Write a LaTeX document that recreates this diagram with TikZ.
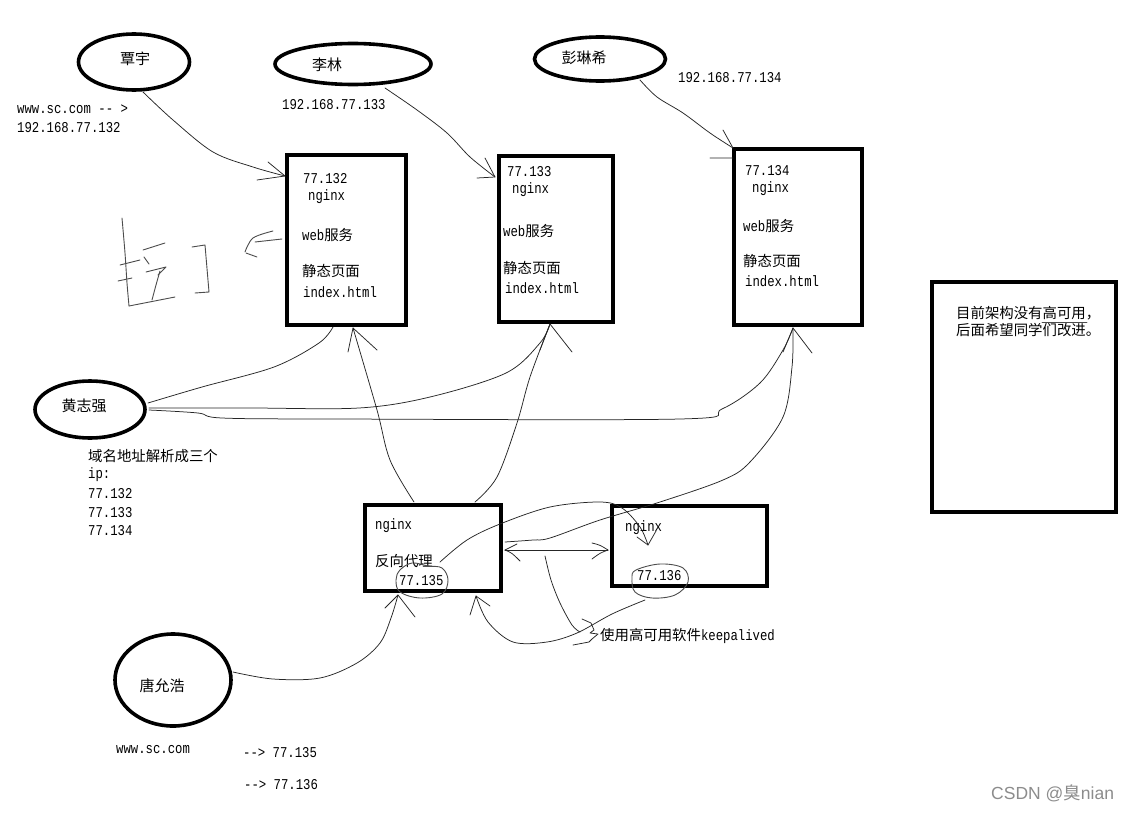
\documentclass[tikz,border=0pt]{standalone}
\usepackage{fontspec}
\usetikzlibrary{shapes.geometric}
\newfontfamily\cjkf{Noto Sans CJK SC}
\newfontfamily\monof{Liberation Mono}[FakeStretch=0.82]
\newfontfamily\sansf{Liberation Sans}
\newcommand\Zh[1]{{\cjkf\fontsize{14.4}{16}\selectfont #1}}
\newcommand\Mo[1]{{\monof\fontsize{15}{16}\selectfont #1}}
\begin{document}
\begin{tikzpicture}[x=1pt,y=-1pt,
 ell/.style={draw, ellipse, line width=3.6pt, inner sep=0},
 box/.style={draw, rectangle, line width=4pt, inner sep=0},
 lbl/.style={anchor=base west, inner sep=0},
 cname/.style={inner sep=0, font=\cjkf\fontsize{15}{16}\selectfont},
 wire/.style={line width=0.75pt, black!85, line cap=round, line join=round},
 ink/.style={line width=0.9pt, black!70, line cap=round, line join=round},
 sm/.style={smooth, tension=0.55}]
\useasboundingbox (0,0) rectangle (1134,816);
\fill[white] (0,0) rectangle (1134,816);

% ---- people (ellipses)
\node[ell, minimum width=111pt, minimum height=56pt] (qy) at (134,62) {};
\node[cname] (qyt) at (135,59) {覃宇};
\node[ell, minimum width=156pt, minimum height=41pt] (ll) at (353,64) {};
\node[cname] (llt) at (327,65) {李林};
\node[ell, minimum width=131pt, minimum height=44pt] (plx) at (600,59) {};
\node[cname] (plxt) at (584,58) {彭琳希};
\node[ell, minimum width=110pt, minimum height=57pt] (hzq) at (90,409.5) {};
\node[cname] (hzqt) at (84,406) {黄志强};
\node[ell, minimum width=116pt, minimum height=92pt] (tyh) at (173,680) {};
\node[cname] (tyht) at (162,686) {唐允浩};

% ---- boxes
\node[box, minimum width=119pt, minimum height=170pt] (b1) at (346.5,240) {};
\node[box, minimum width=114pt, minimum height=166pt] (b2) at (556,239) {};
\node[box, minimum width=128pt, minimum height=176pt] (b3) at (798,237) {};
\node[box, minimum width=136pt, minimum height=86pt] (bp) at (433,548) {};
\node[box, minimum width=155pt, minimum height=80pt] (bk) at (689.5,546) {};
\node[box, minimum width=184pt, minimum height=230pt] (bn) at (1024,397) {};

% ---- texts in boxes
\node[lbl] (b1a) at (303,183) {\Mo{77.132}};
\node[lbl] (b1b) at (308,200) {\Mo{nginx}};
\node[lbl] (b1c) at (302,240) {\Mo{web}\Zh{服务}};
\node[lbl] (b1d) at (302,276.5) {\Zh{静态页面}};
\node[lbl] (b1e) at (303,297) {\Mo{index.html}};

\node[lbl] (b2a) at (507,176) {\Mo{77.133}};
\node[lbl] (b2b) at (512,193) {\Mo{nginx}};
\node[lbl] (b2c) at (503,236) {\Mo{web}\Zh{服务}};
\node[lbl] (b2d) at (503,273) {\Zh{静态页面}};
\node[lbl] (b2e) at (505,293) {\Mo{index.html}};

\node[lbl] (b3a) at (745,175) {\Mo{77.134}};
\node[lbl] (b3b) at (752,192) {\Mo{nginx}};
\node[lbl] (b3c) at (743,231) {\Mo{web}\Zh{服务}};
\node[lbl] (b3d) at (743,266) {\Zh{静态页面}};
\node[lbl] (b3e) at (745,286) {\Mo{index.html}};

\node[lbl] (bpa) at (375,529) {\Mo{nginx}};
\node[lbl] (bpb) at (375,566) {\Zh{反向代理}};
\node[lbl] (bpc) at (399,585) {\Mo{77.135}};
\node[lbl] (bka) at (625,531) {\Mo{nginx}};
\node[lbl] (bkb) at (637,580) {\Mo{77.136}};

\node[lbl] (bna) at (956,318) {\Zh{目前架构没有高可用，}};
\node[lbl] (bnb) at (956,335) {\Zh{后面希望同学们改进。}};

% ---- free texts
\node[lbl] (t1) at (17,113) {\Mo{www.sc.com -- >}};
\node[lbl] (t2) at (17,132) {\Mo{192.168.77.132}};
\node[lbl] (t3) at (282,109) {\Mo{192.168.77.133}};
\node[lbl] (t4) at (678,82) {\Mo{192.168.77.134}};
\node[lbl] (t5) at (88,461) {\Zh{域名地址解析成三个}};
\node[lbl] (t6) at (88,478) {\Mo{ip:}};
\node[lbl] (t7) at (88,498) {\Mo{77.132}};
\node[lbl] (t8) at (88,517) {\Mo{77.133}};
\node[lbl] (t9) at (88,535) {\Mo{77.134}};
\node[lbl] (t10) at (116,753) {\Mo{www.sc.com}};
\node[lbl] (t11) at (243,757) {\Mo{--> 77.135}};
\node[lbl] (t12) at (244,789) {\Mo{--> 77.136}};
\node[lbl] (t13) at (600,640) {\Zh{使用高可用软件}\Mo{keepalived}};
\node[lbl, text=black!45] (wm) at (991,799) {\sansf\fontsize{17.5}{19}\selectfont CSDN @{\cjkf 臭}nian};

% ---- hand-drawn circles
\draw[ink] plot[smooth cycle, tension=0.6] coordinates {(400,570) (412,563) (428,566) (442,568) (448,580) (442,594) (420,598) (400,592) (396,580)};
\draw[ink] plot[smooth cycle, tension=0.6] coordinates {(636,570) (660,564) (683,568) (688,582) (675,595) (652,598) (635,592) (632,578)};
\draw[ink, line width=0.6pt] (1042,322) -- (1087,322);

% ---- connector end points
\coordinate (c1s) at (143,92);   \coordinate (c1e) at (285,176);
\coordinate (c2s) at (385,88);   \coordinate (c2e) at (495,177);
\coordinate (c3s) at (640,80);   \coordinate (c3e) at (733,148);
\coordinate (h1) at (148,403);   \coordinate (h1e) at (333,327);
\coordinate (h2) at (149,408);   \coordinate (b2in) at (550,324);
\coordinate (h3) at (149,410);   \coordinate (b3in) at (793,328);
\coordinate (b1in) at (353,328);
\coordinate (pt1) at (414,502);  \coordinate (pt2) at (475,502);
\coordinate (pr) at (505,542);   \coordinate (pin) at (440,562);
\coordinate (kin) at (648,545);
\coordinate (dl) at (505,550);   \coordinate (dr) at (608,550);
\coordinate (ty) at (233,672);   \coordinate (pb1) at (398,595);
\coordinate (kc) at (645,600);   \coordinate (pb2) at (476,596);
\coordinate (k1) at (545,556);   \coordinate (k1e) at (580,632);

% ---- connectors
\draw[wire] plot[sm] coordinates {(c1s) (173,120) (213,152) (253,167) (c1e)};
\draw[wire] (268,162) -- (c1e) (257,180) -- (c1e);

\draw[wire] plot[sm] coordinates {(c2s) (417,110) (447,133) (470,157) (c2e)};
\draw[wire] (485,158) -- (c2e) (477,178) -- (c2e);

\draw[wire] plot[sm] coordinates {(c3s) (657,97) (683,113) (710,133) (c3e)};
\draw[wire] (723,130) -- (c3e) (710,158) -- (733,158);

\draw[wire] plot[sm] coordinates {(h1) (202,387) (274,367) (319,343) (h1e)};
\draw[wire] plot[sm] coordinates {(h2) (250,408) (359,408) (430,397) (506,373) (540,343) (b2in)};
\draw[wire] plot[sm] coordinates {(h3) (198,413) (222,418) (336,419) (680,419) (722,409) (760,383) (783,350) (b3in)};

\draw[wire] plot[sm] coordinates {(pt1) (390,460) (377,410) (b1in)};
\draw[wire] (348,352) -- (b1in) -- (377,350);

\draw[wire] plot[sm] coordinates {(pt2) (497,477) (517,423) (530,377) (b2in)};
\draw[wire] (540,350) -- (b2in) -- (572,352);

\draw[wire] plot[sm] coordinates {(pr) (533,540) (550,538) (600,520) (660,502) (723,480) (750,462) (783,417) (792,367) (b3in)};
\draw[wire] (783,352) -- (b3in) -- (812,353);

\draw[wire] plot[sm] coordinates {(pin) (467,540) (500,524) (550,507) (600,502) (622,508) (640,527) (kin)};
\draw[wire] (637,537) -- (kin) -- (656,531);

\draw[wire] (dl) -- (dr);
\draw[wire] (dl) .. controls (512,553) .. (520,561);
\draw[wire] (dl) -- (517,544);
\draw[wire] (dr) .. controls (600,553) .. (592,559);
\draw[wire] (dr) .. controls (600,545) .. (592,543);

\draw[wire] plot[sm] coordinates {(ty) (273,679) (320,678) (357,663) (380,643) (391,618) (pb1)};
\draw[wire] (385,608) -- (pb1) -- (415,617);

\draw[wire] plot[sm] coordinates {(kc) (612,614) (577,633) (547,642) (513,642) (488,622) (pb2)};
\draw[wire] (470,615) -- (pb2) -- (490,606);

\draw[wire] plot[sm] coordinates {(k1) (551,580) (560,603) (572,625) (k1e)};
\draw[wire] (582,619) -- (591,623) -- (594,630) -- (590,633) -- (598,634) -- (592,639) -- (589,642) -- (573,645);

% ---- handwritten scribble
\draw[ink] plot[sm] coordinates {(122,218) (125,253) (127,283) (129,306)};
\draw[ink] (120,265) -- (140,260);
\draw[ink] (118,281) -- (132,278);
\draw[ink] (143,250) -- (165,243);
\draw[ink] (144,257) -- (149,264);
\draw[ink] (146,272) -- (166,267) -- (158,275);
\draw[ink] plot[sm] coordinates {(160,271) (156,285) (152,300)};
\draw[ink] (129,306) -- (175,297);
\draw[ink] (192,247) -- (205,245) -- (209,292) -- (195,293);
\draw[ink] plot[sm] coordinates {(245,252) (253,238) (273,231)};
\draw[ink] (255,242) -- (282,239);
\draw[ink] (246,253) -- (257,257);
\end{tikzpicture}
\end{document}
